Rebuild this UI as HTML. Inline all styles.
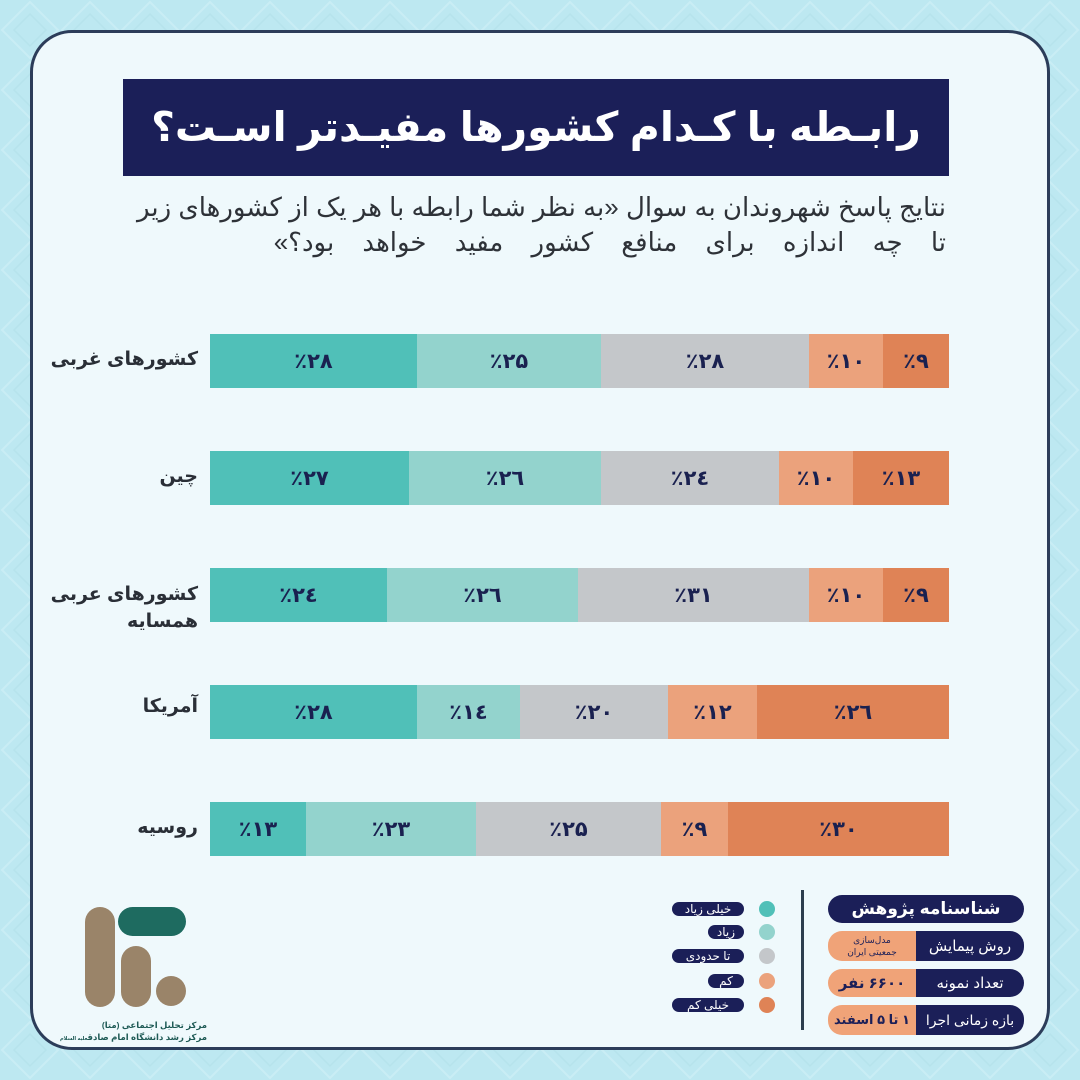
<!DOCTYPE html>
<html>
<head>
<meta charset="utf-8">
<style>
  html,body{margin:0;padding:0;}
  body{width:1080px;height:1080px;position:relative;overflow:hidden;background:#bde8f1;font-family:"Liberation Sans","DejaVu Sans",sans-serif;}
  .bgpat{position:absolute;left:0;top:0;width:1080px;height:1080px;}
  .card{position:absolute;left:30px;top:30px;width:1014px;height:1014px;border:3px solid #2c3d5a;border-radius:42px;background:#eff9fc;}
  .title{position:absolute;left:123px;top:79px;width:826px;height:97px;background:#1b1f58;color:#fff;direction:rtl;text-align:center;font-weight:bold;font-size:41px;line-height:97px;white-space:nowrap;overflow:hidden;}
  .sub{position:absolute;right:134px;direction:rtl;text-align:right;color:#2e3238;font-size:26px;line-height:34px;white-space:nowrap;}
  .lbl{position:absolute;right:882px;direction:rtl;text-align:right;font-weight:bold;font-size:19px;color:#2a2f37;white-space:nowrap;line-height:27px;}
  .bar{position:absolute;left:210px;width:739px;height:54px;}
  .seg{position:absolute;top:0;height:54px;display:flex;align-items:center;justify-content:center;font-weight:bold;font-size:21px;color:#1a2150;}
  .seg span{direction:ltr;unicode-bidi:isolate;}
  .c1{background:#50c0b8}.c2{background:#93d3cd}.c3{background:#c4c7ca}.c4{background:#eba27c}.c5{background:#df8356}
  .dot{position:absolute;left:759px;width:16px;height:16px;border-radius:50%;}
  .pill{position:absolute;right:336px;height:14px;background:#1b1f58;color:#fff;border-radius:7px;direction:rtl;text-align:center;font-size:12px;line-height:14px;white-space:nowrap;}
  .divider{position:absolute;left:801px;top:890px;width:3px;height:140px;background:#2d3e4e;}
  .ihead{position:absolute;left:828px;top:895px;width:196px;height:28px;border-radius:14px;background:#1b1f58;color:#fff;direction:rtl;text-align:center;font-size:17px;line-height:28px;font-weight:bold;white-space:nowrap;}
  .irow{position:absolute;left:828px;width:196px;border-radius:14px;overflow:hidden;}
  .irow .o{position:absolute;left:0;top:0;bottom:0;width:88px;background:#f0a378;color:#1b1f58;direction:rtl;text-align:center;display:flex;align-items:center;justify-content:center;white-space:nowrap;}
  .irow .n{position:absolute;left:88px;top:0;bottom:0;right:0;background:#1b1f58;color:#fff;direction:rtl;text-align:center;display:flex;align-items:center;justify-content:center;font-size:15px;white-space:nowrap;}
  .logo div{position:absolute;background:#9a8469;}
  .ltxt{position:absolute;right:873px;direction:rtl;text-align:right;color:#1e5a55;font-weight:bold;font-size:8.5px;white-space:nowrap;line-height:12px;}
</style>
</head>
<body>
<svg class="bgpat" width="1080" height="1080" xmlns="http://www.w3.org/2000/svg">
  <defs>
    <pattern id="p" width="60" height="60" patternUnits="userSpaceOnUse">
      <path d="M30 2 L58 30 L30 58 L2 30 Z" fill="none" stroke="#c9edf4" stroke-width="2"/>
      <path d="M30 14 L46 30 L30 46 L14 30 Z" fill="none" stroke="#b6e3ec" stroke-width="1.5"/>
    </pattern>
  </defs>
  <rect width="1080" height="1080" fill="#bde8f1"/>
  <rect width="1080" height="1080" fill="url(#p)"/>
</svg>

<div class="card"></div>

<div class="title">رابـطه با کـدام کشورها مفیـدتر اسـت؟</div>

<div class="sub" style="top:190px;">نتایج پاسخ شهروندان به سوال «به نظر شما رابطه با هر یک از کشورهای زیر</div>
<div class="sub" style="top:225px;word-spacing:21px;">تا چه اندازه برای منافع کشور مفید خواهد بود؟»</div>

<!-- Row 1 -->
<div class="lbl" style="top:346px;">کشورهای غربی</div>
<div class="bar" style="top:334px;">
  <div class="seg c1" style="left:0;width:207px;"><span>٪۲۸</span></div>
  <div class="seg c2" style="left:207px;width:184px;"><span>٪۲۵</span></div>
  <div class="seg c3" style="left:391px;width:208px;"><span>٪۲۸</span></div>
  <div class="seg c4" style="left:599px;width:74px;"><span>٪۱۰</span></div>
  <div class="seg c5" style="left:673px;width:66px;"><span>٪۹</span></div>
</div>

<!-- Row 2 -->
<div class="lbl" style="top:463px;">چین</div>
<div class="bar" style="top:451px;">
  <div class="seg c1" style="left:0;width:199px;"><span>٪۲۷</span></div>
  <div class="seg c2" style="left:199px;width:192px;"><span>٪۲٦</span></div>
  <div class="seg c3" style="left:391px;width:178px;"><span>٪۲٤</span></div>
  <div class="seg c4" style="left:569px;width:74px;"><span>٪۱۰</span></div>
  <div class="seg c5" style="left:643px;width:96px;"><span>٪۱۳</span></div>
</div>

<!-- Row 3 -->
<div class="lbl" style="top:581px;">کشورهای عربی<br>همسایه</div>
<div class="bar" style="top:568px;">
  <div class="seg c1" style="left:0;width:177px;"><span>٪۲٤</span></div>
  <div class="seg c2" style="left:177px;width:191px;"><span>٪۲٦</span></div>
  <div class="seg c3" style="left:368px;width:231px;"><span>٪۳۱</span></div>
  <div class="seg c4" style="left:599px;width:74px;"><span>٪۱۰</span></div>
  <div class="seg c5" style="left:673px;width:66px;"><span>٪۹</span></div>
</div>

<!-- Row 4 -->
<div class="lbl" style="top:693px;">آمریکا</div>
<div class="bar" style="top:685px;">
  <div class="seg c1" style="left:0;width:207px;"><span>٪۲۸</span></div>
  <div class="seg c2" style="left:207px;width:103px;"><span>٪۱٤</span></div>
  <div class="seg c3" style="left:310px;width:148px;"><span>٪۲۰</span></div>
  <div class="seg c4" style="left:458px;width:89px;"><span>٪۱۲</span></div>
  <div class="seg c5" style="left:547px;width:192px;"><span>٪۲٦</span></div>
</div>

<!-- Row 5 -->
<div class="lbl" style="top:814px;">روسیه</div>
<div class="bar" style="top:802px;">
  <div class="seg c1" style="left:0;width:96px;"><span>٪۱۳</span></div>
  <div class="seg c2" style="left:96px;width:170px;"><span>٪۲۳</span></div>
  <div class="seg c3" style="left:266px;width:185px;"><span>٪۲۵</span></div>
  <div class="seg c4" style="left:451px;width:67px;"><span>٪۹</span></div>
  <div class="seg c5" style="left:518px;width:221px;"><span>٪۳۰</span></div>
</div>

<!-- Legend -->
<div class="dot c1" style="top:901px;"></div>
<div class="dot c2" style="top:924px;"></div>
<div class="dot c3" style="top:948px;"></div>
<div class="dot c4" style="top:973px;"></div>
<div class="dot c5" style="top:997px;"></div>
<div class="pill" style="top:902px;width:72px;">خیلی زیاد</div>
<div class="pill" style="top:925px;width:36px;">زیاد</div>
<div class="pill" style="top:949px;width:72px;">تا حدودی</div>
<div class="pill" style="top:974px;width:36px;">کم</div>
<div class="pill" style="top:998px;width:72px;">خیلی کم</div>

<div class="divider"></div>

<!-- Info box -->
<div class="ihead">شناسنامه پژوهش</div>
<div class="irow" style="top:931px;height:30px;">
  <div class="o" style="font-size:9px;line-height:12px;flex-direction:column;">مدل‌سازی<br>جمعیتی ایران</div>
  <div class="n">روش پیمایش</div>
</div>
<div class="irow" style="top:969px;height:28px;">
  <div class="o" style="font-size:15px;font-weight:bold;">۶۶۰۰ نفر</div>
  <div class="n">تعداد نمونه</div>
</div>
<div class="irow" style="top:1005px;height:30px;">
  <div class="o" style="font-size:13px;font-weight:bold;">۱ تا ۵ اسفند</div>
  <div class="n" style="font-size:14px;">بازه زمانی اجرا</div>
</div>

<!-- Logo -->
<div class="logo">
  <div style="left:85px;top:907px;width:30px;height:100px;border-radius:15px;"></div>
  <div style="left:118px;top:907px;width:68px;height:29px;border-radius:15px;background:#1e6b60;"></div>
  <div style="left:121px;top:946px;width:30px;height:61px;border-radius:15px;"></div>
  <div style="left:156px;top:976px;width:30px;height:30px;border-radius:50%;"></div>
</div>
<div class="ltxt" style="top:1019px;">مرکز تحلیل اجتماعی (متا)</div>
<div class="ltxt" style="top:1031px;">مرکز رشد دانشگاه امام صادق<span style="font-size:5px;">علیه السلام</span></div>

</body>
</html>
